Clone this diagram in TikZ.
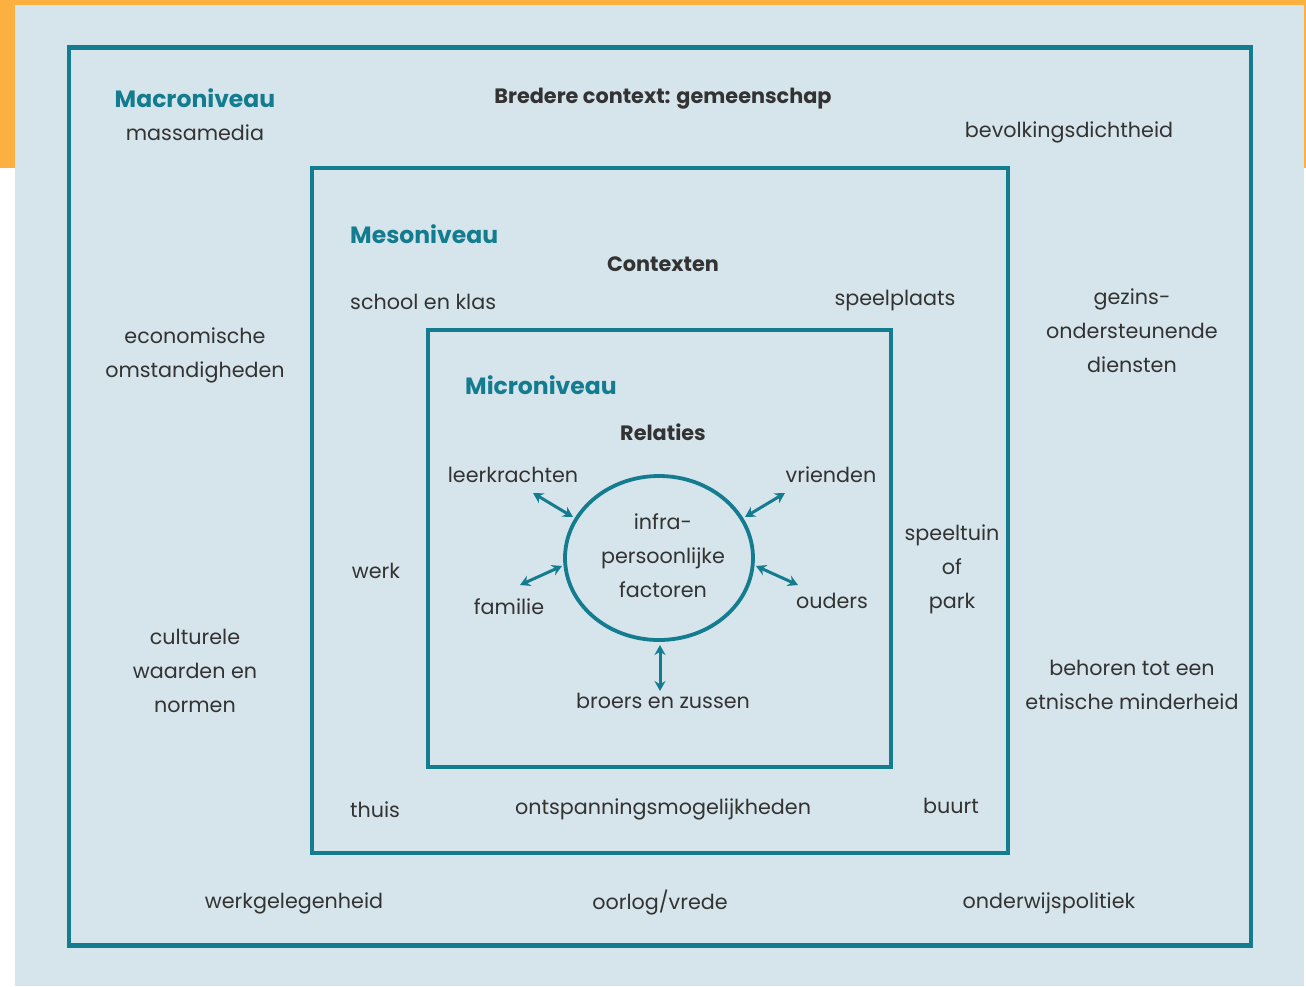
\documentclass[tikz,border=0pt]{standalone}
\usepackage{fontspec}
\setmainfont{Poppins}
\usetikzlibrary{arrows.meta,shapes.geometric}
\definecolor{orangebg}{HTML}{FBB040}
\definecolor{panel}{HTML}{D6E4EB}
\definecolor{teal}{HTML}{137C8E}
\definecolor{txt}{HTML}{333333}
\tikzset{
  frame/.style={draw=teal, line width=4.5pt},
  lbl/.style={text=txt, font=\fontsize{20.7}{34}\selectfont, align=center, inner sep=0pt},
  head/.style={text=teal, font=\fontsize{23.5}{28}\selectfont\bfseries, inner sep=0pt},
  ctx/.style={text=txt, font=\fontsize{20.8}{25}\selectfont\bfseries, inner sep=0pt},
  rel/.style={draw=teal, line width=3pt, {Stealth[length=10pt,width=11pt]}-{Stealth[length=10pt,width=11pt]}}
}
\begin{document}
\begin{tikzpicture}[x=1pt,y=-1pt]
\useasboundingbox (0,0) rectangle (1306,986);
\fill[white] (0,0) rectangle (1306,986);
\fill[orangebg] (0,0) rectangle (1306,168);
\fill[panel] (15,5) rectangle (1304,986);
% frames
\draw[frame] (69,47.5) rectangle (1251,945.5);
\draw[frame, line width=3.8pt] (312,168) rectangle (1008,853);
\draw[frame, line width=3.8pt] (428,330) rectangle (891,767);
\node[draw=teal, line width=3.8pt, ellipse, minimum width=188pt, minimum height=164pt, inner sep=0pt] (core) at (659,558) {};
\node[lbl] (infra) at (663,556) {infra-\\persoonlijke\\factoren};
% macro
\node[head] (macro) at (195,98) {Macroniveau};
\node[lbl] (massa) at (195,133) {massamedia};
\node[ctx] (bredere) at (663,99) {Bredere context: gemeenschap};
\node[lbl] (bevolk) at (1069,132) {bevolkingsdichtheid};
\node[lbl] (econ) at (195,355) {economische\\omstandigheden};
\node[lbl] (gezins) at (1132,331) {gezins-\\ondersteunende\\diensten};
\node[lbl] (cult) at (195,671) {culturele\\waarden en\\normen};
\node[lbl] (etn) at (1132,685) {behoren tot een\\etnische minderheid};
\node[lbl] (werkg) at (294,903) {werkgelegenheid};
\node[lbl] (oorlog) at (660,903) {oorlog/vrede};
\node[lbl] (onderw) at (1049,903) {onderwijspolitiek};
% meso
\node[head, anchor=west] (meso) at (350,234) {Mesoniveau};
\node[ctx] (contexten) at (663,264) {Contexten};
\node[lbl, anchor=west] (school) at (350,302) {school en klas};
\node[lbl] (speelpl) at (895,301) {speelplaats};
\node[lbl] (werk) at (376,571) {werk};
\node[lbl] (speeltuin) at (952,569) {speeltuin\\of\\park};
\node[lbl] (thuis) at (375,810) {thuis};
\node[lbl] (ontsp) at (663,809) {ontspanningsmogelijkheden};
\node[lbl] (buurt) at (951,806) {buurt};
% micro
\node[head, anchor=west] (micro) at (465,385) {Microniveau};
\node[ctx] (relaties) at (663,432) {Relaties};
\node[lbl] (leer) at (513,475) {leerkrachten};
\node[lbl] (vrienden) at (831,475) {vrienden};
\node[lbl] (familie) at (509,607) {familie};
\node[lbl] (ouders) at (832,601) {ouders};
\node[lbl] (broers) at (663,701) {broers en zussen};
% arrows
\coordinate (a1) at (533,493); \coordinate (b1) at (573,517);
\coordinate (a2) at (785,493); \coordinate (b2) at (745,517);
\coordinate (a3) at (520,585); \coordinate (b3) at (562,566);
\coordinate (a4) at (798,585); \coordinate (b4) at (756,566);
\coordinate (a5) at (660,691); \coordinate (b5) at (660,645);
\draw[rel] (a1) -- (b1);
\draw[rel] (a2) -- (b2);
\draw[rel] (a3) -- (b3);
\draw[rel] (a4) -- (b4);
\draw[rel] (a5) -- (b5);
\end{tikzpicture}
\end{document}
